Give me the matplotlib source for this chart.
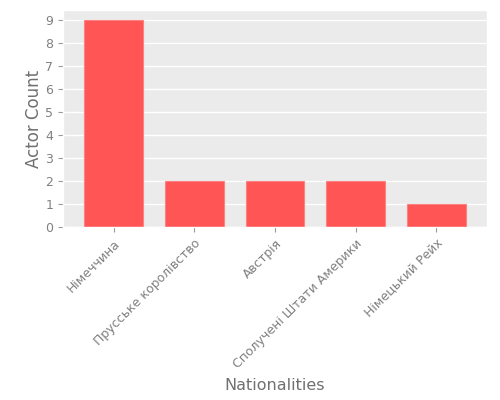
import matplotlib
matplotlib.use("Agg")
import matplotlib.pyplot as plt

plt.style.use('ggplot')

nationalities = ['Німеччина', 'Прусське королівство', 'Австрія',
                 'Сполучені Штати Америки', 'Німецький Рейх']
counts = [9, 2, 2, 2, 1]

fig, ax = plt.subplots(figsize=(5, 4), dpi=100)
ax.set_facecolor('#ebebeb')
ax.bar(range(len(nationalities)), counts, width=0.73, color='#ff5555',
       edgecolor='#ff8080', linewidth=0.8, zorder=2)
ax.set_xticks(range(len(nationalities)))
ax.set_xticklabels(nationalities, rotation=45, ha='right', rotation_mode='anchor')
ax.set_xlim(-0.63, 4.63)
ax.set_yticks(range(10))
ax.grid(axis='x', visible=False)
ax.grid(axis='y', color='white', linewidth=1)
ax.set_xlabel('Nationalities', fontsize=11.5, color='#707070', labelpad=5)
ax.set_ylabel('Actor Count', fontsize=12, color='#707070', labelpad=1.5)
ax.tick_params(labelsize=9, colors='#999999', labelcolor='#808080')
fig.subplots_adjust(left=0.126, right=0.974, top=0.975, bottom=0.432)
fig.savefig('out.png')
